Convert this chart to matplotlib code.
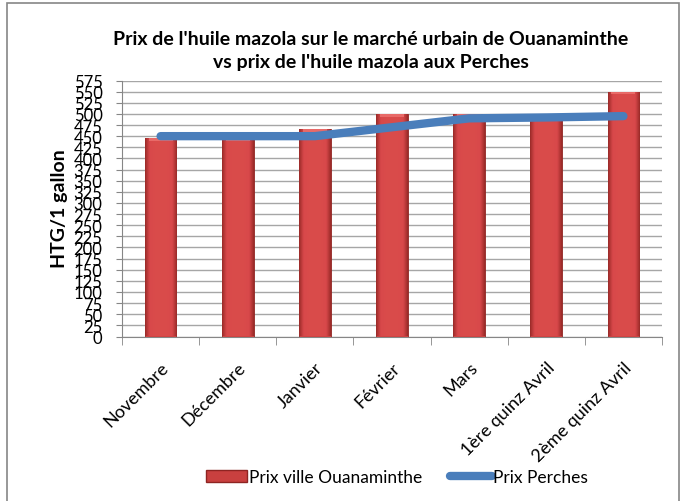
import matplotlib.pyplot as plt
import numpy as np
from matplotlib.patches import Rectangle
from matplotlib.lines import Line2D
from matplotlib.colors import LinearSegmentedColormap

# Data
mois = ["Novembre", "Décembre", "Janvier", "Février", "Mars",
        "1ère quinz Avril", "2ème quinz Avril"]
prix_ouanaminthe = [445, 445, 465, 500, 500, 500, 550]
prix_perches = [450, 450, 450, 470, 490, 492, 495]
yticks = list(range(0, 576, 25))

plt.rcParams['font.family'] = ['Lato', 'DejaVu Sans']

fig = plt.figure(figsize=(6.83, 5.02), dpi=100)
ax = fig.add_axes([122 / 683, 1 - 337.5 / 502, 540 / 683, 256 / 502])

x = np.arange(len(mois))
bars = ax.bar(x, prix_ouanaminthe, width=0.41, color="#D4403F",
              edgecolor="#8E2422", linewidth=0.6, zorder=2)

# horizontal shading on each bar
grad = np.linspace(0, 1, 64)
grad = 1 - (2 * grad - 1) ** 2
grad = np.tile(grad, (2, 1))
cmap = LinearSegmentedColormap.from_list("r", ["#9A2A28", "#D8484A", "#DA4C4B"])
for b in bars:
    bx, by = b.get_x(), b.get_y()
    im = ax.imshow(grad, extent=[bx, bx + b.get_width(), by, by + b.get_height()],
                   aspect="auto", cmap=cmap, zorder=2.1, interpolation="bilinear")
    im.set_clip_path(b)
    ax.add_patch(Rectangle((bx + b.get_width() * 0.12, b.get_height() - 6),
                           b.get_width() * 0.76, 6, color="#E86A68", lw=0, zorder=2.2))

ax.plot(x, prix_perches, color="#4A7EBB", linewidth=6, solid_capstyle="round",
        solid_joinstyle="round", zorder=3)

ax.set_xlim(-0.5, len(mois) - 0.5)
ax.set_ylim(0, 575)
ax.set_yticks(yticks)
ax.set_yticklabels([str(v) for v in yticks], fontsize=12)
ax.grid(axis="y", color="#A6A6A6", linewidth=1, zorder=0)
ax.set_axisbelow(True)
ax.tick_params(axis="y", length=4, color="#868686", pad=10)

ax.set_xticks(x)
ax.set_xticklabels(mois, rotation=45, ha="right", rotation_mode="anchor", fontsize=13)
ax.set_xticks(np.arange(-0.5, len(mois)), minor=True)
ax.tick_params(axis="x", which="major", length=0, pad=16)
ax.tick_params(axis="x", which="minor", length=6, color="#868686")

for s in ["top", "right"]:
    ax.spines[s].set_visible(False)
ax.spines["left"].set_color("#868686")
ax.spines["bottom"].set_color("#868686")

fig.text(60 / 683, 1 - 209 / 502, "HTG/1 gallon", rotation=90,
         ha="center", va="center", fontsize=14, fontweight="bold")

fig.text(371 / 683, 1 - 51 / 502,
         "Prix de l'huile mazola sur le marché urbain de Ouanaminthe\nvs prix de l'huile mazola aux Perches",
         ha="center", va="center", fontsize=14, fontweight="bold", linespacing=1.45)

handles = [Rectangle((0, 0), 1, 1, facecolor="#C9403F", edgecolor="#8E2422"),
           Line2D([0], [0], color="#4A7EBB", linewidth=6, solid_capstyle="round")]
fig.legend(handles, ["Prix ville Ouanaminthe", "Prix Perches"],
           loc="center", bbox_to_anchor=(397 / 683, 1 - 478 / 502), ncol=2,
           frameon=False, fontsize=12.5, handlelength=2.4, handletextpad=0.1,
           columnspacing=1.6)

fig.patches.append(Rectangle((7 / 683, -0.01), 672 / 683, 1 - 4 / 502 + 0.01,
                             transform=fig.transFigure, fill=False,
                             edgecolor="#868686", linewidth=1.2))

fig.savefig("out.png", dpi=100)
